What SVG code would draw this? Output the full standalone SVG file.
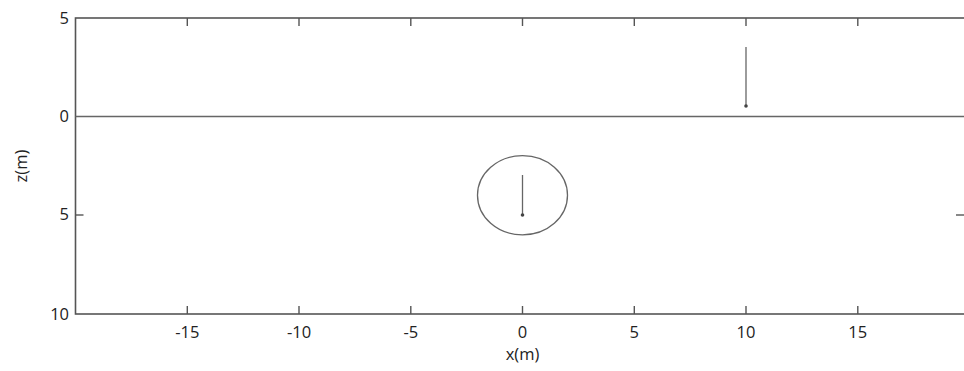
<svg xmlns="http://www.w3.org/2000/svg" width="964" height="371" viewBox="0 0 964 371">
<style>
.ax{stroke:#555;stroke-width:1.6;fill:none}
.tk{stroke:#555;stroke-width:1.4}
.ln{stroke:#666;stroke-width:1.3;fill:none}
.lbl{font-family:"Open Sans","Liberation Sans",sans-serif;font-size:16.5px;fill:#222}
</style>
<rect width="964" height="371" fill="#fff"/>
<g id="axes">
<rect class="ax" x="75.5" y="18" width="894" height="296"/>
<g class="tk">
<line x1="187.3" y1="18" x2="187.3" y2="26"/><line x1="299" y1="18" x2="299" y2="26"/><line x1="410.8" y1="18" x2="410.8" y2="26"/><line x1="522.5" y1="18" x2="522.5" y2="26"/><line x1="634.3" y1="18" x2="634.3" y2="26"/><line x1="746" y1="18" x2="746" y2="26"/><line x1="857.8" y1="18" x2="857.8" y2="26"/>
<line x1="187.3" y1="314" x2="187.3" y2="306"/><line x1="299" y1="314" x2="299" y2="306"/><line x1="410.8" y1="314" x2="410.8" y2="306"/><line x1="522.5" y1="314" x2="522.5" y2="306"/><line x1="634.3" y1="314" x2="634.3" y2="306"/><line x1="746" y1="314" x2="746" y2="306"/><line x1="857.8" y1="314" x2="857.8" y2="306"/>
<line x1="75.5" y1="215" x2="83.5" y2="215"/><line x1="964" y1="215" x2="956" y2="215"/>
</g>
<g class="lbl" text-anchor="end">
<text x="69" y="24">5</text><text x="69" y="122">0</text><text x="69" y="220">5</text><text x="69" y="320">10</text>
</g>
<g class="lbl" text-anchor="middle">
<text x="187.3" y="338">-15</text><text x="299" y="338">-10</text><text x="410.8" y="338">-5</text><text x="522.5" y="338">0</text><text x="634.3" y="338">5</text><text x="746" y="338">10</text><text x="857.8" y="338">15</text>
<text x="522.5" y="360">x(m)</text>
<text transform="translate(27 166) rotate(-90)">z(m)</text>
</g>
</g>
<g id="surface"><line class="ln" x1="75.5" y1="116.5" x2="964" y2="116.5" stroke="#777"/></g>
<g id="sphere">
<ellipse class="ln" cx="522.5" cy="195.3" rx="45" ry="39.6"/>
<line class="ln" x1="522.5" y1="175" x2="522.5" y2="215"/>
<circle cx="522.5" cy="215" r="1.8" fill="#444"/>
</g>
<g id="receiver">
<line class="ln" x1="746" y1="47" x2="746" y2="106"/>
<circle cx="746" cy="106" r="1.8" fill="#444"/>
</g>
</svg>
